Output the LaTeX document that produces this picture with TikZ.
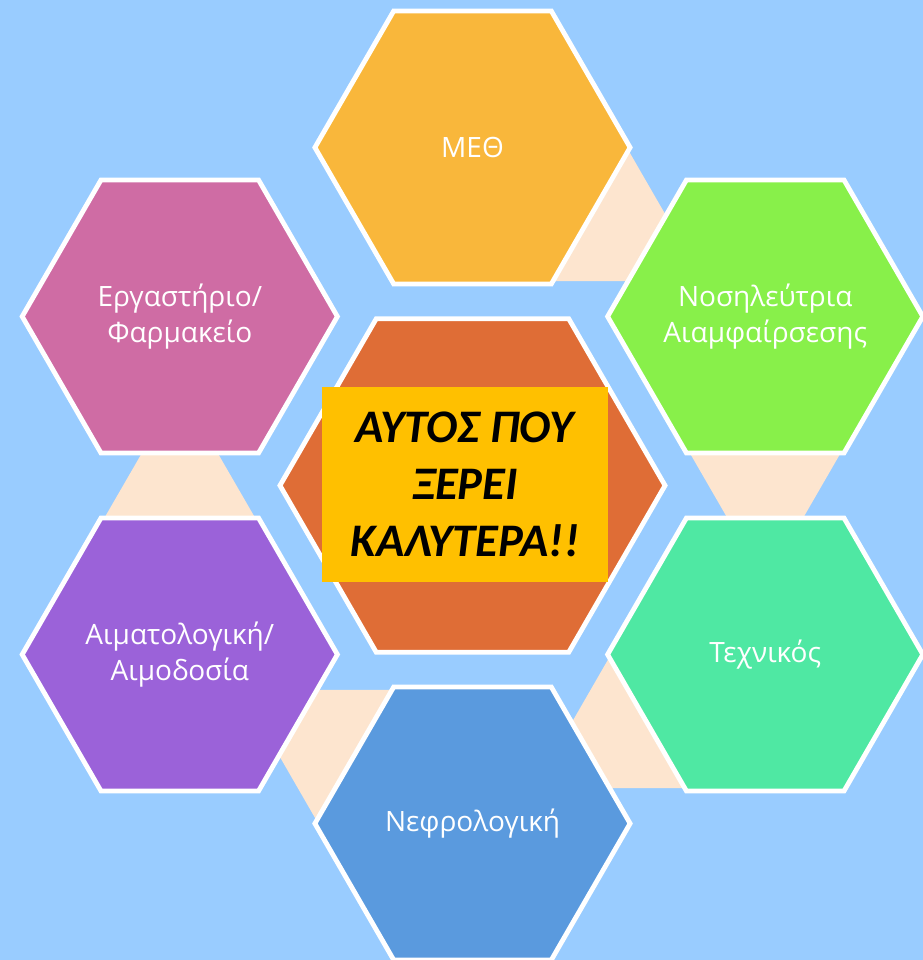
\documentclass[tikz,border=0pt]{standalone}
\usepackage{fontspec}
\setmainfont{Carlito}
\newfontfamily\labelfont{Open Sans}
\usetikzlibrary{shapes.geometric,calc}
\definecolor{bg}{HTML}{99CCFF}
\definecolor{peach}{HTML}{FDE5CF}
\definecolor{cmeth}{HTML}{F9B73B}
\definecolor{cnos}{HTML}{88F04A}
\definecolor{ctech}{HTML}{4FE8A3}
\definecolor{cnef}{HTML}{5A9ADE}
\definecolor{caim}{HTML}{9B62D9}
\definecolor{cerg}{HTML}{CF6CA4}
\definecolor{ccent}{HTML}{DF6D36}
\definecolor{ybox}{HTML}{FFC000}
\begin{document}
\begin{tikzpicture}[x=0.75pt,y=0.75pt,
  hexa/.style={regular polygon, regular polygon sides=6, draw=white, line width=3.6pt,
    minimum size=236.4pt, inner sep=0pt},
  hexlabel/.style={inner sep=0pt, text=white,
    font=\labelfont\fontsize{21}{27}\selectfont, align=center},
  link/.style={fill=peach},
  titlebox/.style={fill=ybox, minimum width=214.5pt, minimum height=146.25pt, inner sep=0pt,
    align=center, text=black, font=\fontsize{35}{43}\selectfont\bfseries\itshape}]
\fill[bg] (0,0) rectangle (923,960);
\useasboundingbox (0,0) rectangle (923,960);
\coordinate (O) at (472.5,474.5);
\foreach \n/\a in {meth/90, nos/30, tech/-30, nef/-90, aim/-150, erg/150}{
  \coordinate (\n) at ($(O)+(\a:338)$);
}
\foreach \n/\a in {meth/90, nos/30, tech/-30, nef/-90, aim/-150}{
  \pgfmathsetmacro\p{\a-120}
  \fill[link] ($(\n)+(\p+31.89:151.45)$) -- ($(\n)+(\p:267)$) -- ($(\n)+(\p-31.89:151.45)$) -- cycle;
}
\node[hexa, fill=cmeth] (hmeth) at (meth) {};
\node[hexa, fill=cnos] (hnos) at (nos) {};
\node[hexa, fill=ctech] (htech) at (tech) {};
\node[hexa, fill=cnef] (hnef) at (nef) {};
\node[hexa, fill=caim] (haim) at (aim) {};
\node[hexa, fill=cerg] (herg) at (erg) {};
\node[hexlabel] (tmeth) at (hmeth.center) {ΜΕΘ};
\node[hexlabel] (tnos) at (hnos.center) {Νοσηλεύτρια\\Αιαμφαίρσεσης};
\node[hexlabel] (ttech) at (htech.center) {Τεχνικός};
\node[hexlabel] (tnef) at (hnef.center) {Νεφρολογική};
\node[hexlabel] (taim) at (haim.center) {Αιματολογική/\\Αιμοδοσία};
\node[hexlabel] (terg) at (herg.center) {Εργαστήριο/\\Φαρμακείο};
\node[hexa, fill=ccent, minimum size=288.8pt] (hcent) at (O) {};
\node[titlebox] (title) at (465,475.5) {ΑΥΤΟΣ ΠΟΥ\\ΞΕΡΕΙ\\ΚΑΛΥΤΕΡΑ!!};
\end{tikzpicture}
\end{document}
